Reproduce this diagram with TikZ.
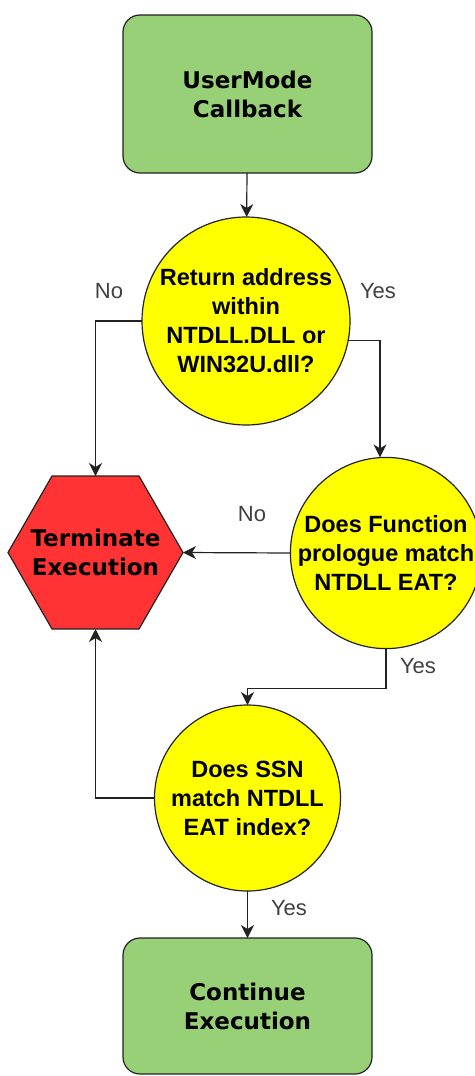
\documentclass[tikz,border=0pt]{standalone}
\usepackage{fontspec}
\setmainfont{Liberation Sans}
\newfontfamily\boxfont{DejaVu Sans}
\usetikzlibrary{shapes.geometric,arrows.meta,calc}

\definecolor{startgreen}{HTML}{97D077}
\definecolor{askyellow}{HTML}{FFFF00}
\definecolor{stopred}{HTML}{FF3333}
\definecolor{linegray}{HTML}{222222}
\definecolor{labelgray}{HTML}{404040}

\tikzset{
  terminal/.style={draw=linegray, line width=1.2pt, fill=startgreen,
    rounded corners=17pt, minimum width=249pt, minimum height=158pt,
    align=center, inner sep=0pt, outer sep=0pt,
    font=\boxfont\bfseries\fontsize{23}{29}\selectfont},
  question/.style={draw=linegray, line width=1.2pt, fill=askyellow,
    circle, align=center, inner sep=0pt, outer sep=0pt,
    font=\bfseries\fontsize{23.5}{29}\selectfont},
  stopper/.style={rectangle, minimum width=175pt, minimum height=153pt,
    align=center, inner sep=0pt, outer sep=0pt,
    font=\boxfont\bfseries\fontsize{23}{29}\selectfont},
  stopedge/.style={draw=linegray, line width=1.2pt, fill=stopred,
    line join=miter},
  flow/.style={draw=linegray, line width=1.2pt,
    -{Stealth[length=13pt,width=13pt,inset=4pt]}},
  branch/.style={text=labelgray, font=\fontsize{22}{26}\selectfont,
    inner sep=0pt}
}

\begin{document}
\begin{tikzpicture}[x=1pt,y=-1pt]
  \useasboundingbox (0,0) rectangle (474,1076);

  % the hexagonal stop step: outline first, then its text node
  \path[stopedge] (8,552.5) -- (52,476) -- (139,476) -- (183,552.5)
    -- (139,629) -- (52,629) -- cycle;
  \node[stopper] (term) at (95.5,552.5) {Terminate\\Execution};

  % steps of the check
  \node[terminal] (start) at (247.5,94) {UserMode\\Callback};
  \node[question, minimum size=208pt] (ret) at (246,321)
    {Return address\\within\\NTDLL.DLL or\\WIN32U.dll?};
  \node[question, minimum size=188pt] (pro) at (386,553)
    {Does Function\\prologue match\\NTDLL EAT?};
  \node[question, minimum size=186pt] (ssn) at (247.5,798)
    {Does SSN\\match NTDLL\\EAT index?};
  \node[terminal, minimum height=136pt] (cont) at (247.5,1006)
    {Continue\\Execution};

  % connectors
  \draw[flow] (start) -- (ret);
  \draw[flow] (ret.west) -| (term.north);
  \draw[flow] (ret.-11.6) -| ([xshift=-6pt]pro.north);
  \draw[flow] (pro.west) -- (term.east);
  \draw[flow] (pro.south) -- ++(0,40) -| (ssn.north);
  \draw[flow] (ssn.west) -| (term.south);
  \draw[flow] (ssn) -- (cont);

  % branch labels
  \node[branch] (l1) at (109,291) {No};
  \node[branch] (l2) at (378,291) {Yes};
  \node[branch] (l3) at (252,514) {No};
  \node[branch] (l4) at (418,666) {Yes};
  \node[branch] (l5) at (289,908) {Yes};
\end{tikzpicture}
\end{document}
